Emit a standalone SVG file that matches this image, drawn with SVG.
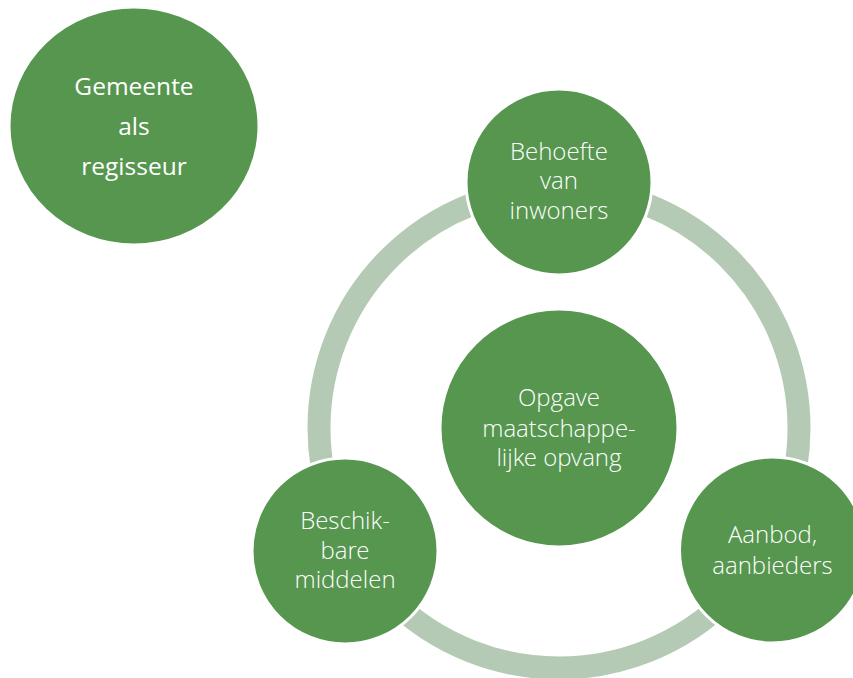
<svg xmlns="http://www.w3.org/2000/svg" width="853" height="678" viewBox="0 0 853 678">
  <style>
    .node { fill: #56964f; stroke: #ffffff; stroke-width: 3; }
    .ring { fill: none; stroke: #b5cab4; stroke-width: 23; }
    .lbl { font-family: "Open Sans Light", "Open Sans", "Liberation Sans", sans-serif; font-weight: 300; font-size: 24px; fill: #ffffff; text-anchor: middle; }
    .lbl-main { font-family: "Open Sans", "Liberation Sans", sans-serif; font-weight: 400; font-size: 24.5px; fill: #ffffff; text-anchor: middle; }
  </style>

  <!-- cycle ring behind the nodes -->
  <g id="connectors">
    <circle class="ring" cx="559" cy="428" r="240"/>
  </g>

  <g id="gemeente">
    <ellipse class="node" cx="134" cy="126" rx="125" ry="119" stroke="none"/>
    <text class="lbl-main" x="134" y="95">Gemeente</text>
    <text class="lbl-main" x="134" y="135">als</text>
    <text class="lbl-main" x="134" y="175">regisseur</text>
  </g>

  <g id="opgave">
    <circle class="node" cx="559" cy="428" r="119"/>
    <text class="lbl" x="559" y="406">Opgave</text>
    <text class="lbl" x="559" y="437">maatschappe-</text>
    <text class="lbl" x="559" y="466">lijke opvang</text>
  </g>

  <g id="behoefte">
    <circle class="node" cx="559" cy="182" r="93"/>
    <text class="lbl" x="559" y="160">Behoefte</text>
    <text class="lbl" x="559" y="189">van</text>
    <text class="lbl" x="559" y="219">inwoners</text>
  </g>

  <g id="middelen">
    <circle class="node" cx="345" cy="551" r="93"/>
    <text class="lbl" x="345" y="529">Beschik-</text>
    <text class="lbl" x="345" y="559">bare</text>
    <text class="lbl" x="345" y="588">middelen</text>
  </g>

  <g id="aanbod">
    <circle class="node" cx="772.5" cy="550" r="93"/>
    <text class="lbl" x="772.5" y="543">Aanbod,</text>
    <text class="lbl" x="772.5" y="574">aanbieders</text>
  </g>
</svg>
